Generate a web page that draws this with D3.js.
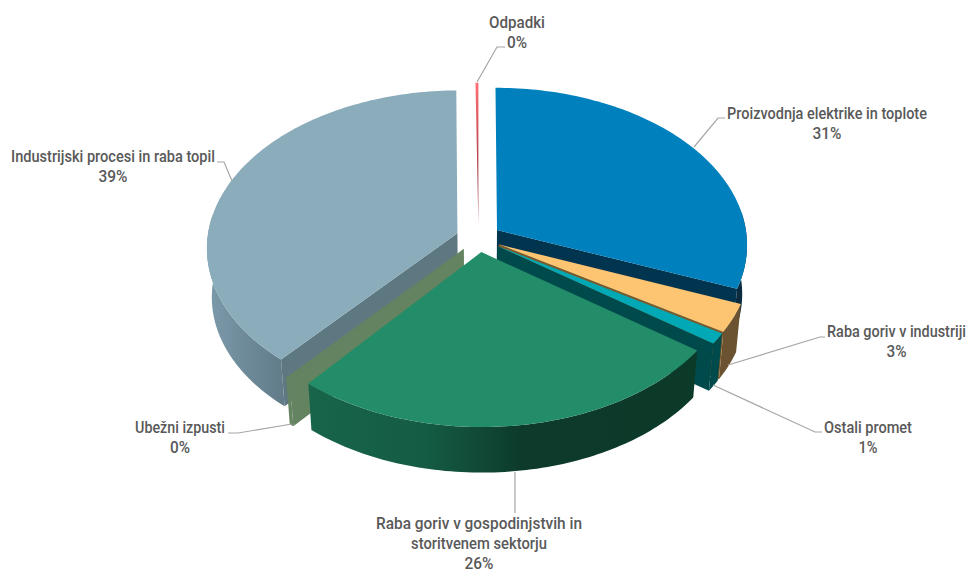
<!DOCTYPE html>
<html><head><meta charset="utf-8">
<script src="https://cdnjs.cloudflare.com/ajax/libs/d3/7.8.5/d3.min.js"></script>
<style>html,body{margin:0;padding:0;background:#fff}svg{display:block}
text{font-family:Roboto,"Liberation Sans",sans-serif;font-size:17px;font-weight:500;fill:#595959;text-anchor:middle}</style>
</head><body><svg id="c" width="968" height="574"></svg>
<script>
const categories = ["Proizvodnja elektrike in toplote","Raba goriv v industriji","Ostali promet","Raba goriv v gospodinjstvih in storitvenem sektorju","Ubežni izpusti","Industrijski procesi in raba topil","Odpadki"];
const shares = [31.0,2.9,1.1,26.1,0.3,38.5,0.2];
const percentLabels = ["31%","3%","1%","26%","0%","39%","0%"];
const topColors = ["#0080bd","#fdc571","#00a9b5","#238c68","#648360","#8aacbb","#e8505a"];
const cutColors = ["#00344f","#7a5a2a","#004a4c","#124a38","#648360","#5e7881","#8a3038"];
const wallColors = ["#0a2b40","#6b5230","#004a4c","url(#wallGreen)","#648360","url(#wallGray)","#8a3038"];

// layout (not data)
const cfg = {cx:478.5, cy:238, R:250, A:156.5, k:0.09, e:0.09, depth:49, shrink:0.982};
const labelLines = [["Proizvodnja elektrike in toplote"],["Raba goriv v industriji"],["Ostali promet"],["Raba goriv v gospodinjstvih in","storitvenem sektorju"],["Ubežni izpusti"],["Industrijski procesi in raba topil"],["Odpadki"]];
const labelX = [827,896.5,868,479,180,113,517];
const labelY = [119,337,433,529,433,162,28];
const labelW = [[200],[139],[88],[206,136],[90],[204],[56]];
const pctW = [29,20,19,29,20,29,20];
const leaders = [[[694,147],[718,118],[725,118]],[[728,365],[820,337],[825,337]],[[713,385],[815,432],[822,432]],[[515,472],[515,513]],[[292,424],[238,433],[228,433]],[[232,181],[224,162],[217,162]],[[477,82],[497,47],[505,47]]];
const drawOrder = [6,5,0,1,2,4,3];

const svg = d3.select("#c");
const defs = svg.append("defs");
function grad(id,x1,x2,stops){
  const g=defs.append("linearGradient").attr("id",id).attr("gradientUnits","userSpaceOnUse").attr("x1",x1).attr("x2",x2).attr("y1",0).attr("y2",0);
  stops.forEach(s=>g.append("stop").attr("offset",s[0]).attr("stop-color",s[1]));
}
grad("wallGreen",306,700,[[0,"#17654a"],[0.3,"#155c44"],[0.55,"#0d3a2a"],[1,"#0c3a29"]]);
grad("wallGray",208,290,[[0,"#7b9aaa"],[1,"#5f7886"]]);
const red=defs.append("linearGradient").attr("id","topRed").attr("gradientUnits","userSpaceOnUse").attr("x1",0).attr("x2",0).attr("y1",83).attr("y2",252);
[[0,"#ff6d73"],[0.55,"#a83a44"],[0.75,"#a83a44"],[1,"#f3d6d8"]].forEach(s=>red.append("stop").attr("offset",s[0]).attr("stop-color",s[1]));

const xS = d3.scaleLinear().domain([-1,1]).range([cfg.cx-cfg.R,cfg.cx+cfg.R]);
const yS = d3.scaleLinear().domain([-1,1]).range([cfg.cy-cfg.A,cfg.cy+cfg.A]);
const project=(u,v)=>{const w=1-cfg.k*v; return [xS(u/w),yS(v/w)];};
const lower=p=>[cfg.cx+(p[0]-cfg.cx)*cfg.shrink, cfg.cy+(p[1]-cfg.cy)*cfg.shrink+cfg.depth];
const line=d3.line();

const arcs=d3.pie().sort(null).value(d=>d).startAngle(0).endAngle(2*Math.PI)(shares);
function rim(a,o,from,to){
  const s=from===undefined?a.startAngle:from, e=to===undefined?a.endAngle:to;
  const n=Math.max(2,Math.ceil((e-s)/0.02));
  return d3.range(n+1).map(i=>{
    const t=s+(e-s)*i/n;
    return project(o[0]+Math.sin(t),o[1]-Math.cos(t));
  });
}
// the outer wall only shows on the near part of the rim
const nearFrom=Math.PI/2-0.12, nearTo=3*Math.PI/2+0.12;
drawOrder.forEach(i=>{
  const a=arcs[i], m=(a.startAngle+a.endAngle)/2;
  const o=[cfg.e*Math.sin(m),-cfg.e*Math.cos(m)];
  const c=project(o[0],o[1]);
  const r=rim(a,o);
  const g=svg.append("g");
  const wf=Math.max(a.startAngle,nearFrom), wt=Math.min(a.endAngle,nearTo);
  if(i!==6 && wt>wf){
    const wr=rim(a,o,wf,wt);
    g.append("path").attr("d",line(wr.concat(wr.map(lower).reverse()))+"Z").attr("fill",wallColors[i]);
  }
  const face=(p)=>g.append("path").attr("d",line([c,p,lower(p),lower(c)])+"Z").attr("fill",cutColors[i]);
  if(Math.sin(a.endAngle)>0) face(r[r.length-1]);
  if(Math.sin(a.startAngle)<0 && i!==6) face(r[0]);
  g.append("path").attr("d",line([c].concat(r))+"Z").attr("fill",i===6?"url(#topRed)":topColors[i]);
});

leaders.forEach(l=>svg.append("path").attr("d",line(l)).attr("fill","none").attr("stroke","#a6a6a6").attr("stroke-width",1.2));
function fitted(t,x,y,w){
  const el=svg.append("text").text(t);
  const nat=el.node().getComputedTextLength();
  el.attr("transform",`translate(${x},${y}) scale(${w/nat},1)`);
}
categories.forEach((c,i)=>{
  labelLines[i].forEach((t,j)=>fitted(t,labelX[i],labelY[i]+j*20,labelW[i][j]));
  fitted(percentLabels[i],labelX[i],labelY[i]+labelLines[i].length*20,pctW[i]);
});
</script></body></html>
